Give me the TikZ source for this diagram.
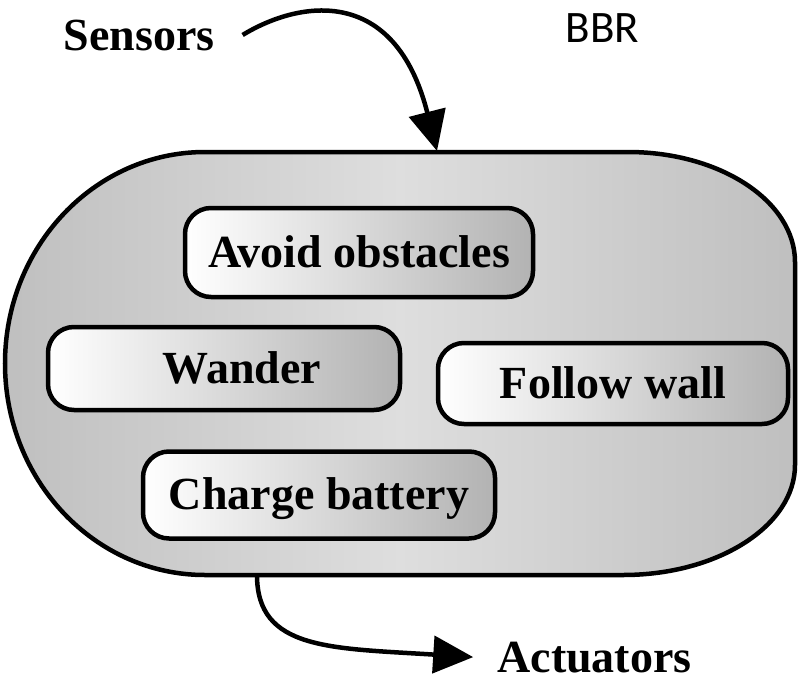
\documentclass[tikz,border=0pt]{standalone}
\usepackage{fontspec}
\setmainfont{Liberation Serif}
\newfontfamily\titlefont{Carlito}
\usetikzlibrary{arrows.meta,calc}

\definecolor{bbrside}{gray}{0.75}
\definecolor{bbrmid}{gray}{0.87}
\definecolor{boxend}{gray}{0.70}

\tikzset{
  bigtext/.style={font=\fontsize{46}{50}\selectfont\bfseries, inner sep=0pt},
  behaviour/.style={bigtext, draw=black, line width=4.5pt, rounded corners=26pt,
    left color=white, right color=boxend, minimum width=350pt, minimum height=86pt,
    text height=29pt, text depth=0pt},
  flow/.style={line width=4.5pt, -{Triangle[length=40pt,width=37pt]}},
}

\begin{document}
\begin{tikzpicture}[x=1pt,y=-1pt]
\useasboundingbox (0,0) rectangle (798,678);

% controller body: wide capsule with a deep left end
\path[draw=black, line width=4.5pt, left color=bbrside, right color=bbrside, middle color=bbrmid]
  (205,152) -- (628,152)
  arc[start angle=-90, end angle=0, x radius=167, y radius=110]
  -- (795,465)
  arc[start angle=0, end angle=90, x radius=172, y radius=110]
  -- (205,575)
  arc[start angle=90, end angle=270, x radius=200, y radius=211.5]
  -- cycle;

% behaviours
\node[behaviour, minimum width=348pt, minimum height=89pt] (avoid) at (359,252.5) {Avoid obstacles};
\node[behaviour, minimum width=352pt, minimum height=83pt] (wander) at (224,368.5) {\hspace*{36pt}Wander};
\node[behaviour, minimum width=350pt, minimum height=81pt] (follow) at (613,383.5) {Follow wall};
\node[behaviour, minimum width=352pt, minimum height=87pt] (charge) at (319,495) {Charge battery};

% labels
\node[bigtext, anchor=base] (sensors) at (139,50) {Sensors};
\node[bigtext, anchor=base] (actuators) at (594.5,672) {Actuators};
\node[font=\titlefont\fontsize{45}{50}\selectfont, inner sep=0pt, anchor=base] (bbr) at (602.5,42) {BBR};

% ports on the body outline
\coordinate (intake) at (437,151);
\coordinate (outlet) at (257,575);

% data flow
\draw[flow] ([xshift=28pt]sensors.east) .. controls (300,0) and (395,-15) .. (intake);
\draw[flow] (outlet) .. controls (257,650) and (330,648) .. ([xshift=-24pt]actuators.west);
\end{tikzpicture}
\end{document}
